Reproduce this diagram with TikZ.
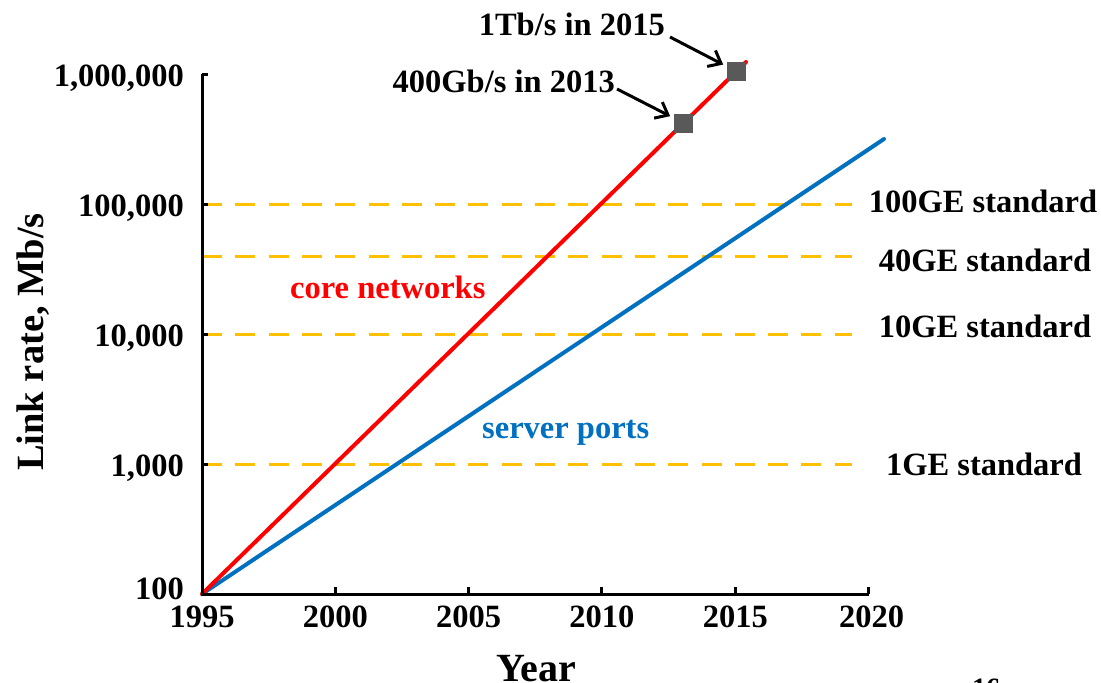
\documentclass[tikz,border=0pt]{standalone}
\usepackage{fontspec}
\setmainfont{Liberation Serif}
\usetikzlibrary{arrows.meta}
\definecolor{coreRed}{RGB}{255,0,0}
\definecolor{portBlue}{RGB}{0,112,192}
\definecolor{stdGold}{RGB}{255,192,0}
\definecolor{markGray}{RGB}{89,89,89}
\begin{document}
\begin{tikzpicture}[x=1pt,y=-1pt,
  lbl/.style={font=\fontsize{32.5}{36}\selectfont\bfseries, inner sep=0pt},
  ylbl/.style={lbl, anchor=base east},
  xlbl/.style={lbl, anchor=base},
  stdlbl/.style={lbl, anchor=base},
  axisline/.style={line width=3pt, black},
  stdline/.style={line width=3pt, stdGold, dash pattern=on 20pt off 13.3pt},
  trend/.style={line width=4pt, line cap=round},
  marker/.style={fill=markGray, minimum size=19pt, inner sep=0pt},
  callout/.style={line width=3pt, -{Straight Barb[length=11pt,width=18pt]}, shorten >=15pt}
]
\useasboundingbox (0,0) rectangle (1101,683);
\clip (0,0) rectangle (1101,683);

% Ethernet standard levels
\foreach \yy in {204,256,334,464}
  \draw[stdline] (202,\yy) -- (852,\yy);

% growth trends
\coordinate (origin) at (202,594);
\coordinate (coreEnd) at (746,62);
\coordinate (portEnd) at (884,139);
\draw[trend, portBlue] (origin) -- (portEnd);
\draw[trend, coreRed] (origin) -- (coreEnd);

% axes and ticks
\draw[axisline] (202,74) -- (202,594) -- (868.7,594);
\foreach \yy in {74,204,334,464}
  \draw[axisline] (202,\yy) -- (208,\yy);
\foreach \k in {1,...,5}
  \draw[axisline] ({202+133.33*\k},594) -- ({202+133.33*\k},587);

% y tick labels
\node[ylbl] (y6) at (184,86) {1,000,000};
\node[ylbl] (y5) at (184,216) {100,000};
\node[ylbl] (y4) at (184,346) {10,000};
\node[ylbl] (y3) at (184,476) {1,000};
\node[ylbl] (y2) at (184,599) {100};

% x tick labels
\foreach \yr [count=\k from 0] in {1995,2000,2005,2010,2015,2020}
  \node[xlbl] (x\yr) at ({202+133.33*\k+ (\k==5 ? 3 : 0)},627) {\yr};

% axis titles
\node[lbl, font=\fontsize{40}{44}\selectfont\bfseries, anchor=base] (xtitle) at (536,681) {Year};
\node[lbl, font=\fontsize{38.5}{42}\selectfont\bfseries, rotate=90, anchor=base] (ytitle) at (43,342) {Link rate, Mb/s};

% standard labels
\node[stdlbl] (s100) at (983,212) {100GE standard};
\node[stdlbl] (s40) at (985,271) {40GE standard};
\node[stdlbl] (s10) at (985,337) {10GE standard};
\node[stdlbl] (s1) at (984,475) {1GE standard};

% trend labels
\node[lbl, anchor=base west, text=coreRed] (coreLbl) at (290,298) {core networks};
\node[lbl, anchor=base west, text=portBlue] (portLbl) at (482,438) {server ports};

% milestones
\node[marker] (m2013) at (683.5,123) {};
\node[marker] (m2015) at (736.5,71.5) {};
\node[lbl, anchor=base east] (t2013) at (615,92) {400Gb/s in 2013};
\node[lbl, anchor=base east] (t2015) at (665,35) {1Tb/s in 2015};
\coordinate (a2013) at (617,89);
\coordinate (a2015) at (670,37);
\draw[callout] (a2013) -- (m2013.center);
\draw[callout] (a2015) -- (m2015.center);

% page number
\node[lbl, font=\fontsize{28}{32}\selectfont\bfseries, anchor=base west] (pg) at (972,697) {16};
\end{tikzpicture}
\end{document}
